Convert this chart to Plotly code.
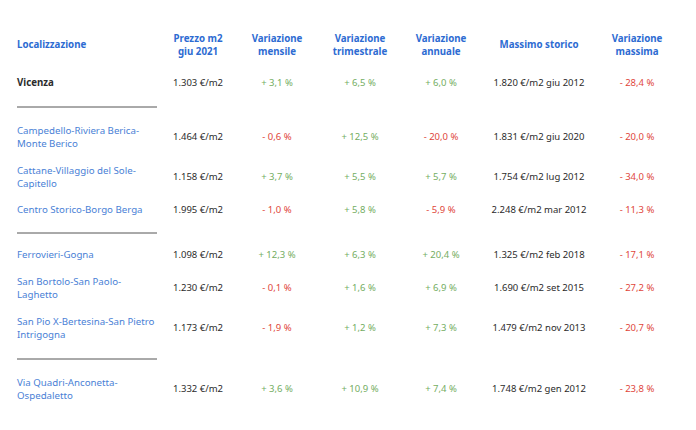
import plotly.graph_objects as go

# dati della tabella (prezzi immobili Vicenza, giu 2021)
zone = ["Vicenza",
        "Campedello-Riviera Berica-<br>Monte Berico",
        "Cattane-Villaggio del Sole-<br>Capitello",
        "Centro Storico-Borgo Berga",
        "Ferrovieri-Gogna",
        "San Bortolo-San Paolo-<br>Laghetto",
        "San Pio X-Bertesina-San Pietro<br>Intrigogna",
        "Via Quadri-Anconetta-<br>Ospedaletto"]
prezzo = [1303, 1464, 1158, 1995, 1098, 1230, 1173, 1332]
var_mensile = [3.1, -0.6, 3.7, -1.0, 12.3, -0.1, -1.9, 3.6]
var_trimestrale = [6.5, 12.5, 5.5, 5.8, 6.3, 1.6, 1.2, 10.9]
var_annuale = [6.0, -20.0, 5.7, -5.9, 20.4, 6.9, 7.3, 7.4]
max_prezzo = [1820, 1831, 1754, 2248, 1325, 1690, 1479, 1748]
max_data = ["giu 2012", "giu 2020", "lug 2012", "mar 2012",
            "feb 2018", "set 2015", "nov 2013", "gen 2012"]
var_massima = [-28.4, -20.0, -34.0, -11.3, -17.1, -27.2, -20.7, -23.8]

intestazioni = ["Localizzazione", "Prezzo m2<br>giu 2021", "Variazione<br>mensile",
                "Variazione<br>trimestrale", "Variazione<br>annuale", "Massimo storico",
                "Variazione<br>massima"]

# layout in pixel (coordinate dello schermo; la pagina ha 8px di margine)
W, H = 696, 430
M = 8
col_x = [17, 198, 277, 360, 441, 539, 637]
row_y = [84, 138, 178, 211, 256, 289, 329, 390]
sep_y = [107, 233, 359]
head_y = 46

BLU_HEAD = "#2d6bd2"
BLU_LINK = "#4a7fd6"
NERO = "#2b2b2b"
VERDE = "#74ad62"
ROSSO = "#e0463b"
FONT = "Noto Sans, Open Sans, sans-serif"


def euro(v):
    return f"{v:,}".replace(",", ".") + " €/m2"


def perc(v):
    s = f"{abs(v):.1f}".replace(".", ",")
    return ("+ " if v >= 0 else "- ") + s + " %"


def colore(vals):
    return [VERDE if v >= 0 else ROSSO for v in vals]


fig = go.Figure()

# intestazioni
fig.add_trace(go.Scatter(x=col_x[:1], y=[head_y], text=["<b>" + intestazioni[0] + "</b>"],
                         mode="text", textposition="middle right",
                         textfont=dict(family=FONT, size=9.7, color=BLU_HEAD)))
fig.add_trace(go.Scatter(x=col_x[1:], y=[head_y] * 6,
                         text=["<b>" + t + "</b>" for t in intestazioni[1:]],
                         mode="text", textposition="middle center",
                         textfont=dict(family=FONT, size=9.7, color=BLU_HEAD)))

# colonna zone
nomi = ["<b>" + zone[0] + "</b>"] + zone[1:]
fig.add_trace(go.Scatter(x=[col_x[0]] * len(zone), y=row_y, text=nomi,
                         mode="text", textposition="middle right",
                         textfont=dict(family=FONT, size=9.7,
                                       color=[NERO] + [BLU_LINK] * (len(zone) - 1))))

colonne = [
    ([euro(v) for v in prezzo], [NERO] * len(prezzo)),
    ([perc(v) for v in var_mensile], colore(var_mensile)),
    ([perc(v) for v in var_trimestrale], colore(var_trimestrale)),
    ([perc(v) for v in var_annuale], colore(var_annuale)),
    ([euro(v) + " " + d for v, d in zip(max_prezzo, max_data)], [NERO] * len(max_prezzo)),
    ([perc(v) for v in var_massima], colore(var_massima)),
]
for i, (testi, colori) in enumerate(colonne):
    fig.add_trace(go.Scatter(x=[col_x[i + 1]] * len(testi), y=row_y, text=testi,
                             mode="text", textposition="middle center",
                             textfont=dict(family=FONT, size=9.5, color=colori)))

# separatori
for y in sep_y:
    fig.add_shape(type="line", x0=17, x1=157, y0=y, y1=y,
                  line=dict(color="#555555", width=1))

fig.update_layout(
    width=W - 2 * M, height=H - 2 * M,
    margin=dict(l=0, r=0, t=0, b=0),
    paper_bgcolor="white", plot_bgcolor="white",
    showlegend=False,
    xaxis=dict(range=[M, W - M], visible=False, fixedrange=True),
    yaxis=dict(range=[H - M, M], visible=False, fixedrange=True),
)

fig.write_html("out.html", config={"displayModeBar": False})
